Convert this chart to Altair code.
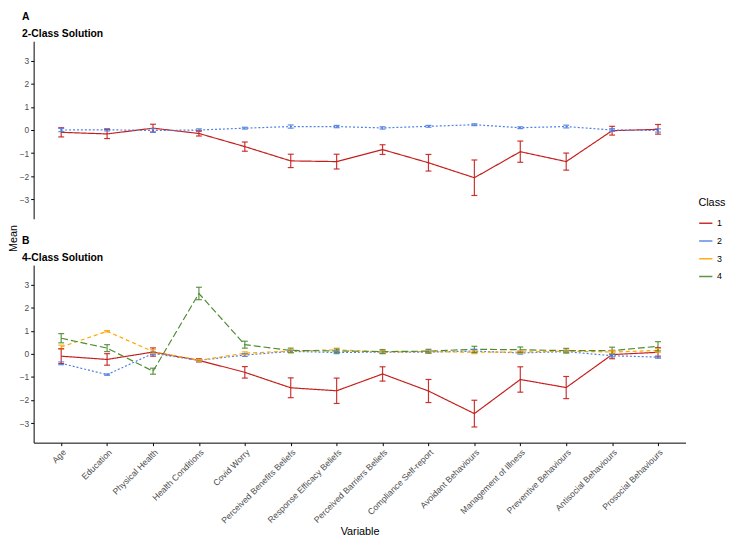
import altair as alt
import pandas as pd

variables = [
    "Age", "Education", "Physical Health", "Health Conditions", "Covid Worry",
    "Perceived Benefits Beliefs", "Response Efficacy Beliefs", "Perceived Barriers Beliefs",
    "Compliance Self-report", "Avoidant Behaviours", "Management of Illness",
    "Preventive Behaviours", "Antisocial Behaviours", "Prosocial Behaviours",
]
classes = ["1", "2", "3", "4"]
class_colors = ["#C41F1C", "#4F7FE3", "#FFA500", "#4E8B32"]
class_dashes = [[1, 0], [2, 2], [4, 3], [7, 3]]

# Panel A: 2-class solution
a1_mean = [-0.10, -0.17, 0.08, -0.15, -0.72, -1.34, -1.37, -0.85, -1.42, -2.07, -0.94, -1.37, -0.03, 0.03]
a1_err = [0.20, 0.20, 0.17, 0.11, 0.20, 0.29, 0.32, 0.21, 0.36, 0.77, 0.46, 0.37, 0.19, 0.21]
a2_mean = [0.00, 0.01, -0.02, 0.00, 0.08, 0.15, 0.15, 0.09, 0.16, 0.23, 0.10, 0.15, 0.00, -0.02]
a2_err = [0.07, 0.05, 0.08, 0.05, 0.04, 0.07, 0.05, 0.05, 0.04, 0.04, 0.04, 0.06, 0.06, 0.07]

# Panel B: 4-class solution
b1_mean = [-0.10, -0.24, 0.08, -0.28, -0.80, -1.47, -1.60, -0.87, -1.61, -2.59, -1.11, -1.46, -0.03, 0.07]
b1_err = [0.32, 0.25, 0.18, 0.07, 0.25, 0.43, 0.55, 0.31, 0.50, 0.58, 0.55, 0.48, 0.18, 0.20]
b2_mean = [-0.41, -0.90, 0.02, -0.28, -0.05, 0.11, 0.06, 0.08, 0.08, 0.12, 0.04, 0.10, -0.08, -0.14]
b2_err = [0.06, 0.03, 0.06, 0.04, 0.06, 0.05, 0.05, 0.05, 0.05, 0.07, 0.05, 0.05, 0.05, 0.05]
b3_mean = [0.30, 0.98, 0.10, -0.28, 0.03, 0.12, 0.18, 0.08, 0.10, 0.07, 0.08, 0.12, 0.08, 0.15]
b3_err = [0.08, 0.03, 0.08, 0.04, 0.06, 0.06, 0.07, 0.06, 0.06, 0.06, 0.06, 0.05, 0.06, 0.08]
b4_mean = [0.68, 0.25, -0.75, 2.62, 0.40, 0.15, 0.13, 0.10, 0.12, 0.20, 0.18, 0.14, 0.14, 0.33]
b4_err = [0.20, 0.15, 0.13, 0.27, 0.15, 0.10, 0.08, 0.09, 0.08, 0.13, 0.12, 0.10, 0.15, 0.20]


def build(series):
    rows = []
    for cls, means, errs in series:
        for v, m, e in zip(variables, means, errs):
            rows.append({"Variable": v, "Class": cls, "mean": m, "lo": m - e, "hi": m + e})
    return pd.DataFrame(rows)


df_a = build([("1", a1_mean, a1_err), ("2", a2_mean, a2_err)])
df_b = build([("1", b1_mean, b1_err), ("2", b2_mean, b2_err),
              ("3", b3_mean, b3_err), ("4", b4_mean, b4_err)])

FONT = "Liberation Sans"
W, H = 661, 180


def panel(df, tag, title, show_x, n_classes):
    xscale = alt.Scale(type="point", domain=variables, padding=0.6)
    if show_x:
        xaxis = alt.Axis(title="Variable", labelAngle=315, labelAlign="right", labelBaseline="top",
                         labelFontSize=8.8, labelColor="#4D4D4D", labelFont=FONT,
                         titleFont=FONT, titleFontSize=11, titleFontWeight="normal", titleColor="black",
                         domainColor="black", tickColor="black", tickSize=3, labelPadding=2,
                         titlePadding=1, labelOverlap=False)
    else:
        xaxis = None
    yaxis = alt.Axis(title=None, values=[-3, -2, -1, 0, 1, 2, 3], labelFontSize=8.5,
                     labelColor="#4D4D4D", labelFont=FONT, domainColor="black",
                     tickColor="black", tickSize=3, labelPadding=2, grid=False,
                     labelOverlap=False, labelFlush=False)
    yscale = alt.Scale(domain=[-3.85, 3.85], nice=False, zero=False)
    color = alt.Color("Class:N", scale=alt.Scale(domain=classes, range=class_colors),
                      legend=alt.Legend(title="Class", orient="none", legendX=699, legendY=158,
                                        symbolType="stroke", symbolStrokeWidth=1.5, symbolSize=180,
                                        symbolDash=[1, 0],
                                        titleFont=FONT, titleFontSize=11, titleFontWeight="normal",
                                        labelFont=FONT, labelFontSize=9, labelColor="black",
                                        rowPadding=5, titlePadding=8))
    base = alt.Chart(df)
    x = alt.X("Variable:N", sort=variables, scale=xscale, axis=xaxis)
    layers = []
    for i in range(n_classes):
        cls = classes[i]
        layers.append(
            base.transform_filter(alt.datum.Class == cls)
            .mark_line(strokeWidth=1.2, strokeDash=class_dashes[i])
            .encode(x=x, y=alt.Y("mean:Q", scale=yscale, axis=yaxis), color=color)
        )
    rule = base.mark_rule(strokeWidth=1.2, opacity=0.9).encode(
        x=x, y=alt.Y("lo:Q", scale=yscale, axis=yaxis), y2="hi:Q", color=color)
    cap_lo = base.mark_tick(size=6, thickness=1.2, opacity=0.9).encode(
        x=x, y=alt.Y("lo:Q", scale=yscale, axis=yaxis), color=color)
    cap_hi = base.mark_tick(size=6, thickness=1.2, opacity=0.9).encode(
        x=x, y=alt.Y("hi:Q", scale=yscale, axis=yaxis), color=color)
    return alt.layer(*layers, rule, cap_lo, cap_hi).properties(
        width=W, height=H,
        title=alt.TitleParams(text=[tag, title], anchor="start", font=FONT, fontSize=10.5,
                              fontWeight="bold", color="black", lineHeight=17, offset=2, dx=3),
    )


top = panel(df_a, "A", "2-Class Solution", False, 2)
bottom = panel(df_b, "B", "4-Class Solution", True, 4)

mean_label = alt.Chart(pd.DataFrame({"t": ["Mean"]})).mark_text(
    angle=270, font=FONT, fontSize=11, color="black", baseline="middle", align="center"
).encode(text="t:N", x=alt.value(5), y=alt.value(200)).properties(width=10, height=300)

chart = alt.hconcat(mean_label, alt.vconcat(top, bottom, spacing=17), spacing=0).properties(
    padding={"left": 0, "top": 0, "right": 0, "bottom": 0}
).configure_view(stroke=None).configure_axis(grid=False)

chart.save("out.html", embed_options={"renderer": "svg", "actions": False})
